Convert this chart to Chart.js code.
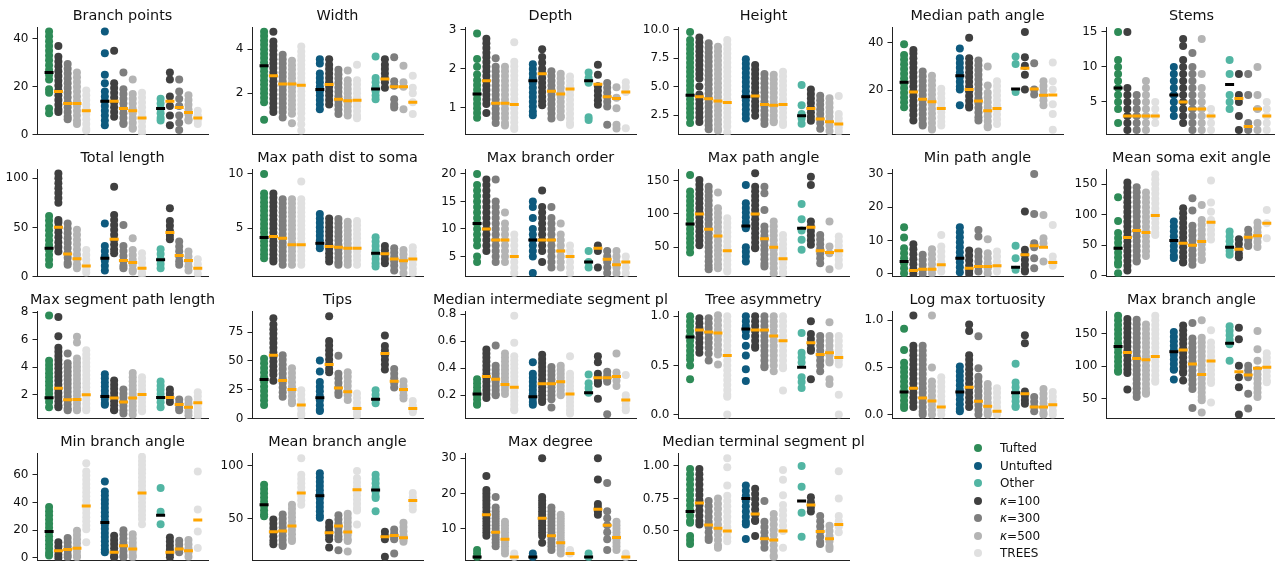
<!DOCTYPE html>
<html>
<head>
<meta charset="utf-8">
<script src="https://cdn.jsdelivr.net/npm/chart.js@4.4.0/dist/chart.umd.min.js"></script>
<style>
  body { margin: 0; background: #fff; width: 1275px; height: 564px; overflow: hidden; position: relative; font-family: "DejaVu Sans", sans-serif; }
  canvas { position: absolute; }
  .ldot { position: absolute; width: 8px; height: 8px; border-radius: 50%; }
  .ltxt { position: absolute; font-size: 12px; line-height: 14px; color: #111; white-space: nowrap; }
</style>
</head>
<body>
<script>
// slots: Tufted, k100, k300, k500, TREES | Untufted, ... | Other, ...
var slotX = [0, 1, 2, 3, 4, 6, 7, 8, 9, 10, 12, 13, 14, 15, 16];
var legendLabels = ["Tufted", "Untufted", "Other", "κ=100", "κ=300", "κ=500", "TREES"];
var legendColors = ["#2e8b57", "#0e5a7e", "#52b5a3", "#404040", "#7e7e7e", "#b4b4b4", "#e0e0e0"];
var slotColor = [0, 3, 4, 5, 6, 1, 3, 4, 5, 6, 2, 3, 4, 5, 6].map(function (k) { return legendColors[k]; });
var medColor = slotX.map(function (x, i) { return i % 5 === 0 ? "#000000" : "#ffa500"; });

var titles = ["Branch points", "Width", "Depth", "Height", "Median path angle", "Stems",
  "Total length", "Max path dist to soma", "Max branch order", "Max path angle", "Min path angle", "Mean soma exit angle",
  "Max segment path length", "Tips", "Median intermediate segment pl", "Tree asymmetry", "Log max tortuosity", "Max branch angle",
  "Min branch angle", "Mean branch angle", "Max degree", "Median terminal segment pl"];

var yLimits = [[0, 44.9], [0.12, 5.01], [0.3, 3.07], [0.77, 10.23], [1.1, 46.7], [0.3, 15.7],
  [-0.3, 109.5], [0.52, 10.46], [1.31, 20.9], [5.5, 167.5], [-0.9, 31.5], [-1.6, 175],
  [0.25, 8.1], [0, 93.2], [0.026, 0.825], [-0.044, 1.054], [-0.045, 1.098], [19.2, 184.3],
  [-2.1, 75.7], [10, 111.9], [0.9, 31.5], [0.27, 1.1]];
var yTicks = [[0, 20, 40], [2, 4], [1, 2, 3], [2.5, 5, 7.5, 10], [20, 40], [5, 10, 15],
  [0, 50, 100], [5, 10], [5, 10, 15, 20], [50, 100, 150], [0, 10, 20, 30], [0, 50, 100, 150],
  [2, 4, 6, 8], [0, 25, 50, 75], [0.2, 0.4, 0.6, 0.8], [0, 0.5, 1], [0, 0.5, 1], [50, 100, 150],
  [0, 20, 40, 60], [50, 100], [10, 20, 30], [0.5, 0.75, 1]];
var tickDigits = [0, 0, 0, 1, 0, 0, 0, 0, 0, 0, 0, 0, 0, 0, 1, 1, 1, 0, 0, 0, 0, 2];

var branchPoints = [
  [43, 41, 39, 37, 35, 33, 31, 29, 27, 25, 23, 19, 17.5, 11, 9],
  [37, 32.5, 30.5, 28.5, 26.5, 24.5, 22.5, 20.5, 18.5, 16.5, 14.5, 12.5, 10.5, 9.5],
  [29.5, 27.5, 25.5, 23.5, 21.5, 19.5, 17.5, 15.5, 13.5, 11.5, 9.5, 7.5, 6.5],
  [26, 24, 22, 20, 18, 16, 14, 12, 10, 8, 6, 4.5],
  [18.5, 16.5, 14.5, 12.5, 10.5, 8.5, 6.5, 4.5, 2.5, 1.8],
  [43, 34, 25, 21.5, 18, 16, 14, 12, 10, 8, 6, 4],
  [35, 21.5, 19.5, 17.5, 15.5, 13.5, 11.5, 9.5, 7.5],
  [26, 19, 17, 15, 13, 11, 9, 7, 5, 4.5],
  [23, 17, 15, 13, 11, 9, 7, 5, 3, 2.5],
  [17.5, 15.5, 13.5, 11.5, 9.5, 7.5, 5.5, 3.5, 1.5, 0.5],
  [15, 13, 11, 9, 7, 6],
  [26, 23, 16, 12, 8, 4],
  [23, 18, 15, 12, 8, 5, 2],
  [16.5, 14.5, 12.5, 10.5, 8.5, 6.5, 6],
  [10, 8, 6, 4.5]];
var branchPointsMed = [26, 18, 13, 13, 10, 14, 14, 11, 10, 7, 11, 14, 11.4, 9.3, 7];

var width = [
  [4.8, 4.6, 4.4, 4.2, 4.0, 3.8, 3.6, 3.4, 3.2, 3.0, 2.8, 2.6, 2.4, 2.2, 2.0, 1.8, 1.6, 0.8],
  [4.8, 4.35, 4.15, 3.95, 3.75, 3.55, 3.35, 3.15, 2.95, 2.75, 2.55, 2.35, 2.15, 1.95, 1.75, 1.55, 1.35, 1.15],
  [3.75, 3.55, 3.35, 3.15, 2.95, 2.75, 2.55, 2.35, 2.15, 1.95, 1.75, 1.55, 1.35, 1.15, 0.9],
  [3.48, 3.28, 3.08, 2.88, 2.68, 2.48, 2.28, 2.08, 1.88, 1.68, 1.48, 1.28, 1.08, 0.64],
  [4.12, 3.9, 3.7, 3.5, 3.3, 3.1, 2.9, 2.7, 2.5, 2.3, 2.1, 1.9, 1.7, 1.5, 1.3, 1.1, 0.85, 0.6, 0.31],
  [3.55, 3.35, 2.9, 2.7, 2.5, 2.3, 2.1, 1.9, 1.7, 1.5, 1.28],
  [3.55, 3.3, 3.1, 2.9, 2.7, 2.5, 2.3, 2.1, 1.9, 1.7, 1.5],
  [3.07, 2.87, 2.67, 2.47, 2.27, 2.07, 1.87, 1.67, 1.47, 1.27, 1.06],
  [3.04, 2.6, 2.4, 2.2, 2.0, 1.8, 1.6, 1.4, 1.2, 0.99],
  [3.3, 2.6, 2.4, 2.2, 2.0, 1.8, 1.6, 1.4, 1.2, 1.0, 0.87],
  [3.67, 2.7, 2.5, 2.3, 2.1, 1.9, 1.73],
  [3.55, 3.3, 3.1, 2.9, 2.7, 2.5, 2.25],
  [3.64, 2.55, 2.35, 1.73, 1.5, 1.36],
  [3.25, 2.5, 2.3, 1.28],
  [2.8, 2.25, 2.0, 1.6, 1.06]];
var widthMed = [3.25, 2.8, 2.43, 2.43, 2.37, 2.18, 2.4, 1.73, 1.66, 1.69, 2.2, 2.65, 2.3, 2.3, 1.6];

var depth = [
  [2.9, 2.25, 2.05, 1.85, 1.7, 1.58, 1.46, 1.34, 1.22, 1.1, 0.98, 0.86, 0.74],
  [2.77, 2.65, 2.53, 2.41, 2.29, 2.17, 2.05, 1.93, 1.81, 1.69, 1.57, 1.45, 1.33, 1.21, 1.09, 0.86],
  [2.27, 2.05, 1.93, 1.81, 1.69, 1.57, 1.45, 1.33, 1.21, 1.09, 0.97, 0.85, 0.73, 0.6],
  [2.05, 1.93, 1.81, 1.69, 1.57, 1.45, 1.33, 1.21, 1.09, 0.97, 0.85, 0.73, 0.6, 0.54],
  [2.68, 2.18, 2.06, 1.94, 1.82, 1.7, 1.58, 1.46, 1.34, 1.22, 1.1, 0.98, 0.86, 0.74, 0.62, 0.5, 0.45],
  [2.11, 1.99, 1.87, 1.75, 1.63, 1.51, 1.39, 1.27, 1.15, 1.03, 0.9, 0.8],
  [2.5, 2.3, 2.15, 2.0, 1.88, 1.76, 1.64, 1.52, 1.4, 1.28, 1.16, 1.06],
  [1.93, 1.81, 1.69, 1.57, 1.45, 1.33, 1.21, 1.09, 0.97, 0.85, 0.72],
  [1.87, 1.75, 1.63, 1.51, 1.39, 1.27, 1.15, 1.03, 0.91, 0.79, 0.75],
  [1.8, 1.68, 1.56, 1.44, 1.32, 1.2, 1.08, 0.96, 0.84, 0.72, 0.6, 0.55],
  [1.9, 1.76, 1.64, 0.75, 0.68],
  [2.1, 1.84, 1.55, 1.43, 1.31, 1.19, 1.07],
  [1.63, 1.51, 1.39, 1.27, 1.15, 1.03, 0.56],
  [1.52, 1.25, 0.98, 0.56, 0.46],
  [1.65, 1.53, 1.4, 0.47]];
var depthMed = [1.35, 1.69, 1.11, 1.11, 1.08, 1.69, 1.87, 1.42, 1.35, 1.48, 1.69, 1.6, 1.28, 1.23, 1.4];

var height = [
  [9.8, 9.1, 8.7, 8.3, 7.9, 7.5, 7.1, 6.7, 6.3, 5.9, 5.5, 5.1, 4.7, 4.3, 3.9, 3.5, 3.1, 2.7, 2.3, 1.8],
  [9.3, 8.9, 8.5, 8.1, 7.7, 7.3, 6.9, 6.5, 6.1, 5.7, 5.0, 4.3, 3.9, 3.5, 3.1, 2.7, 2.3, 1.9],
  [8.8, 8.4, 8.0, 7.6, 7.2, 6.8, 6.4, 6.0, 5.6, 5.2, 4.8, 4.4, 4.0, 3.6, 3.2, 2.8, 2.4, 2.0, 1.6, 1.25],
  [8.5, 8.1, 7.7, 7.3, 6.9, 6.5, 6.1, 5.7, 5.3, 4.9, 4.5, 4.1, 3.7, 3.3, 2.9, 2.5, 2.1, 1.7, 1.3, 1.14],
  [9.1, 8.7, 8.3, 7.9, 7.5, 7.1, 6.7, 6.3, 5.9, 5.5, 5.1, 4.7, 4.3, 3.9, 3.5, 3.1, 2.7, 2.3, 1.9, 1.5, 1.0],
  [7.4, 7.0, 6.6, 6.2, 5.8, 5.4, 5.0, 4.6, 4.2, 3.8, 3.4, 3.0, 2.6, 2.2],
  [6.9, 6.5, 6.1, 5.7, 5.3, 4.9, 4.5, 4.1, 3.7, 3.3, 2.9, 2.44],
  [6.1, 5.7, 5.3, 4.9, 4.5, 4.1, 3.7, 3.3, 2.9, 2.5, 2.1, 1.72],
  [6.05, 5.65, 5.25, 4.85, 4.45, 4.05, 3.65, 3.25, 2.85, 2.45, 2.05, 1.87],
  [6.3, 5.9, 5.5, 5.1, 4.7, 4.3, 3.9, 3.5, 3.1, 2.7, 2.3, 1.9, 1.63],
  [5.15, 3.37, 2.6, 2.2, 1.75],
  [4.75, 4.35, 3.95, 3.55, 3.15, 2.75, 2.35, 2.0],
  [4.2, 3.8, 3.4, 3.0, 2.6, 2.2, 1.8, 1.3],
  [3.97, 3.57, 3.17, 2.77, 2.37, 1.97, 1.57, 1.1],
  [4.17, 2.6, 2.2, 1.8, 1.4, 1.06]];
var heightMed = [4.23, 4.1, 3.94, 3.74, 3.6, 4.1, 4.17, 3.42, 3.37, 3.42, 2.44, 3.08, 2.15, 1.92, 1.72];

var medPathAngle = [
  [39.4, 34.9, 32.9, 30.9, 28.9, 26.9, 24.9, 22.9, 20.9, 18.9, 16.9, 14.9, 12.8],
  [37, 35.5, 33.5, 31.5, 29.5, 27.5, 25.5, 23.5, 21.5, 19.5, 17.5, 15.5, 13.5, 11.5, 9.5, 7.2],
  [27.9, 25.9, 23.9, 21.9, 19.9, 17.9, 15.9, 13.9, 11.9, 9.9, 7.9, 5.9, 5],
  [26.1, 24.1, 22.1, 20.1, 18.1, 16.1, 14.1, 12.1, 10.1, 8.1, 6.1, 4.1, 3.3],
  [20.6, 18.6, 16.6, 14.6, 12.6, 10.6, 8.6, 6.6, 5],
  [37.6, 33.5, 31.5, 29.5, 27.5, 25.5, 23.5, 21.5, 20.3, 13.6],
  [42.2, 33.5, 31.5, 29.5, 27.5, 25.5, 23.5, 21.5, 19.5, 17.5, 15.5, 13.5, 12.6],
  [32.5, 30.5, 28.5, 26.5, 24.5, 22.5, 20.5, 18.5, 16.5, 14.5, 12.5, 10.5, 8.5, 7.1],
  [30, 22, 18.9, 16.9, 14.9, 12.9, 10.9, 8.9, 6.9, 4.9, 4.3],
  [23.7, 21.7, 19.7, 17.7, 15.7, 13.7, 11.7, 9.7, 7.7, 5.7],
  [34.2, 31, 19.2],
  [44.6, 33.9, 30.3, 26.5, 20.3],
  [31.4, 20.3, 18.2],
  [23.7, 21.7, 19.7, 17.7, 15.7, 13.6],
  [31.7, 23.7, 20.3, 14, 9.9, 3.2]];
var medPathAngleMed = [23.3, 19.2, 16.1, 15.1, 12.2, 26.1, 20.3, 15.4, 11.25, 12.2, 20.5, 29.3, 20.5, 17.8, 17.9];

var stems = [
  [15, 11, 10, 9, 8, 7, 6, 5, 4, 2],
  [15, 7, 6, 5, 4, 3, 2, 1],
  [6, 5, 4, 3, 2, 1],
  [8, 7, 6, 5, 4, 3, 2, 1],
  [5, 4, 3, 2],
  [10, 9, 8, 7, 6, 5, 4, 3],
  [14, 13, 11, 10, 9, 8, 7, 6, 5, 4, 3, 2],
  [12, 10, 9, 8, 7, 6, 5, 4, 3, 2, 1],
  [14, 9, 7, 6, 5, 4, 3, 2, 1],
  [4, 3, 2, 1],
  [11, 9, 6, 5, 4],
  [9, 6, 5, 3, 1],
  [9, 6, 2, 1],
  [10, 6, 4, 2, 1],
  [5, 4, 3, 2, 1]];
var stemsMed = [7, 3, 3, 3, 3, 6, 5, 4, 4, 3, 7.5, 5.5, 1.5, 4, 3];

var totalLength = [
  [61.7, 57, 52, 47, 42, 37, 32, 27, 22, 17, 12],
  [105, 100, 95, 90, 85, 80, 75, 57.6, 55, 50, 45, 40, 35, 30, 25.4],
  [54, 49, 44, 39, 34, 29, 24, 19, 14, 12],
  [47.5, 42.5, 37.5, 32.5, 27.5, 22.5, 17.5, 12.5, 8.5],
  [27, 22, 17, 12, 7, 4],
  [54, 31, 26, 21, 16, 11, 6],
  [91.5, 62.7, 57.5, 52.5, 47.5, 42.5, 37.5, 32.5, 27.5, 23.7],
  [52.5, 31, 26, 21, 16, 11, 8.5],
  [39, 27, 22, 17, 12, 7, 5],
  [23.7, 18.7, 13.7, 8.7, 3.7, 1.7],
  [27.8, 22.8, 17.8, 12.8, 8.5],
  [69.5, 56.6, 51.6, 46.6, 41.6, 38],
  [35.6, 30.6, 25.6, 20.6, 15.6, 11.9],
  [25.4, 20.4, 15.4, 10.4, 6],
  [17.6, 12.6, 7.6, 2.7]];
var totalLengthMed = [28.8, 50.2, 23, 18, 10.8, 18.6, 38, 16.3, 14.2, 8.5, 17, 44.7, 21.4, 16.3, 8.5];

var maxPathDist = [
  [10, 8.2, 7.8, 7.4, 7.0, 6.6, 6.2, 5.8, 5.4, 5.0, 4.6, 4.2, 3.8, 3.4, 3.0, 2.6, 2.24],
  [8.2, 7.8, 7.4, 7.0, 6.6, 6.2, 5.8, 5.4, 5.0, 4.6, 4.2, 3.8, 3.4, 3.0, 2.6, 2.2, 1.93],
  [7.67, 7.27, 6.87, 6.47, 6.07, 5.67, 5.27, 4.87, 4.47, 4.07, 3.67, 3.27, 2.87, 2.47, 2.07, 1.63],
  [7.67, 7.27, 6.87, 6.47, 6.07, 5.67, 5.27, 4.87, 4.47, 4.07, 3.67, 3.27, 2.87, 2.47, 2.07, 1.63],
  [9.3, 7.67, 7.27, 6.87, 6.47, 6.07, 5.67, 5.27, 4.87, 4.47, 4.07, 3.67, 3.27, 2.87, 2.47, 2.07, 1.63],
  [6.3, 5.9, 5.5, 5.1, 4.7, 4.3, 3.9, 3.5, 3.16],
  [5.9, 5.5, 5.1, 4.7, 4.3, 3.9, 3.5, 3.1, 2.7, 2.3, 1.93],
  [5.86, 5.46, 5.06, 4.66, 4.26, 3.86, 3.46, 3.06, 2.66, 2.26, 1.86, 1.63],
  [5.6, 5.2, 4.8, 4.4, 4.0, 3.6, 3.2, 2.8, 2.4, 2.0, 1.63],
  [5.67, 5.27, 4.87, 4.47, 4.07, 3.67, 3.27, 2.87, 2.47, 2.07, 1.63],
  [4.17, 3.77, 3.37, 2.97, 2.57, 2.17, 1.77, 1.47],
  [3.37, 2.97, 2.57, 2.17, 1.78],
  [3.16, 2.76, 2.36, 1.96, 1.56, 1.1],
  [3.0, 2.6, 2.2, 1.8, 1.4, 0.86],
  [3.25, 2.85, 2.45, 2.05, 1.65, 1.25, 0.86]];
var maxPathDistMed = [4.14, 4.23, 4.08, 3.47, 3.47, 3.62, 3.31, 3.25, 3.16, 3.16, 2.7, 2.64, 2.15, 2.0, 2.15];

var maxBranchOrder = [
  [20, 18, 17, 16, 15, 14, 13, 12, 11, 10, 9, 8, 7, 5, 4],
  [19, 18, 17, 16, 15, 14, 13, 12, 11, 10, 9, 8, 7, 6],
  [19, 15, 14, 13, 12, 11, 10, 9, 8, 7, 6, 5, 4],
  [13, 11, 10, 9, 8, 7, 6, 5, 4],
  [9, 8, 7, 6, 5, 4, 3, 2],
  [15, 14, 12, 10, 9, 8, 7, 6, 5, 2],
  [17, 14, 13, 12, 11, 10, 9, 8, 7, 6, 4],
  [14, 12, 11, 10, 9, 8, 7, 6, 5, 4, 3],
  [11, 9, 8, 7, 6, 5, 4, 3],
  [7, 6, 5, 4, 3, 2],
  [6, 4, 3],
  [7, 6, 3],
  [6, 5, 4, 3, 2],
  [6, 5, 4, 3, 2],
  [5, 4, 3, 2]];
var maxBranchOrderMed = [11, 10, 8, 8, 5, 8, 8, 8, 6, 5, 4, 6.5, 4.5, 3.5, 4];

var maxPathAngle = [
  [158.5, 133.5, 126.5, 119.5, 112.5, 105.5, 98.5, 91.5, 84.5, 77.5, 70.5, 63.5, 56.5, 49.5, 42],
  [151, 144, 137, 130, 123, 116, 109, 102, 95, 88, 81, 74, 67, 60, 53],
  [141, 134, 127, 120, 113, 106, 99, 92, 85, 78, 71, 64, 57, 50, 43, 36, 29, 22, 17],
  [132, 108.5, 101.5, 94.5, 87.5, 80.5, 73.5, 66.5, 59.5, 52.5, 45.5, 38.5, 31.5, 24.5, 18.5],
  [93.5, 86.5, 79.5, 72.5, 65.5, 58.5, 51.5, 44.5, 37.5, 30.5, 23.5, 16.5, 13.5],
  [143.5, 116, 109, 102, 95, 88, 81, 78.5, 50, 43, 36, 28.5],
  [161, 141, 134, 127, 120, 113, 106, 99, 92, 85, 78, 71, 64, 57, 50, 48.5],
  [141, 131, 106, 81, 74, 67, 60, 53, 46, 39, 32, 25, 21],
  [88.5, 81.5, 74.5, 67.5, 60.5, 53.5, 46.5, 39.5, 32.5, 25.5, 18.5, 11],
  [68.5, 61.5, 54.5, 47.5, 40.5, 33.5, 26.5, 19.5, 12.5, 11],
  [115, 92, 75, 61, 46],
  [156, 143.5, 88.5, 81.5, 74.5, 67.5, 60.5, 53.5],
  [68.5, 61.5, 54.5, 47.5, 40.5, 33.5, 26],
  [88.5, 51, 41, 17],
  [66, 59, 52, 45, 38, 31, 24, 22]];
var maxPathAngleMed = [85, 100, 77, 67, 44.5, 82, 100, 62.5, 50, 32.5, 78.5, 80, 44.5, 42, 44.5];

var minPathAngle = [
  [14, 10.9, 7.7, 6.2, 4.7, 3.2, 1.7, 0.2],
  [8.9, 7.4, 5.9, 4.4, 2.9, 1.4, 0],
  [5.7, 4.2, 2.7, 1.2, 0],
  [7.4, 5.9, 4.4, 2.9, 1.4, 0.2],
  [11.7, 8.2, 6.7, 5.2, 3.7, 2.2, 0.7],
  [14, 12.5, 11, 9.5, 8, 6.5, 5, 3.5, 2, 0.5],
  [7, 5.5, 4, 2.5, 1, 0],
  [13.2, 11.2, 6.7, 5.2, 3.7, 2.2, 0.7],
  [10.4, 6.2, 4.7, 3.2, 1.7, 0.2],
  [6.7, 5.2, 3.7, 2.2, 0.7],
  [8.4, 4.7, 1.2],
  [18.7, 7.2, 5.7, 4.2, 2.7, 1.2, 0.7],
  [30, 18, 9.2, 8, 4.7, 1.7],
  [17.7, 10.7, 9.2, 3.7],
  [14.7, 5.2, 3.7, 2.4]];
var minPathAngleMed = [3.7, 1, 1.4, 1.4, 2.7, 4.7, 1.7, 2.2, 2.2, 2.4, 2, 5.7, 8.4, 8, 3.4];

var somaExitAngle = [
  [128.7, 90, 70, 62, 54, 46, 38, 30, 22, 18, 4.4],
  [152.7, 144.7, 136.7, 128.7, 120.7, 112.7, 104.7, 96.7, 88.7, 80.7, 72.7, 64.7, 56.7, 48.7, 40.7, 32.7, 24.7, 16.7, 8.7],
  [145, 137, 129, 121, 113, 105, 97, 89, 81, 73, 65, 57, 49, 41, 33, 25, 23.5],
  [136.4, 128.4, 120.4, 112.4, 104.4, 96.4, 88.4, 80.4, 72.4, 64.4, 56.4, 48.4, 40.4, 32.4],
  [166.4, 158.4, 150.4, 142.4, 134.4, 126.4, 118.4, 110.4, 102.4, 94.4, 86.4, 78.4, 70.4, 67],
  [89, 81, 73, 65, 57, 49, 41, 33, 29],
  [110.7, 102.7, 94.7, 86.7, 78.7, 70.7, 62.7, 54.7, 46.7, 38.7, 30.7, 22.7, 21.8],
  [127, 107, 82, 74, 66, 58, 50, 42, 34, 26, 18],
  [116, 91.6, 83.6, 75.6, 67.6, 59.6, 51.6, 43.6, 35.6, 27.6, 26],
  [156, 120, 105, 91.6, 83.6, 75.6, 67.6, 59.6],
  [72.6, 64.6, 56.6, 48.6, 40.6, 34.4],
  [60, 52, 44, 36, 30.5],
  [75.3, 67.3, 59.3, 51.3, 49],
  [87.3, 79.3, 71.3, 63.3, 55.3, 47.3],
  [108, 86, 61.6]];
var somaExitAngleMed = [45.3, 62.7, 74.2, 71, 98.7, 57.8, 53.5, 50.2, 56.2, 87.8, 47, 43.6, 63.3, 65.5, 86.2];

var maxSegPathLen = [
  [7.78, 4.47, 4.17, 3.87, 3.57, 3.27, 2.97, 2.67, 2.37, 2.07, 1.77, 1.47, 1.1],
  [7.66, 6.27, 5.43, 5.13, 4.83, 4.53, 4.23, 3.93, 3.63, 3.33, 3.03, 2.73, 2.43, 2.13, 1.83, 1.53, 1.23, 1.1],
  [5.0, 4.3, 4.0, 3.7, 3.4, 3.1, 2.8, 2.5, 2.2, 1.9, 1.6, 1.3, 1.0, 0.87],
  [6.22, 5.8, 4.64, 4.34, 4.04, 3.74, 3.44, 3.14, 2.84, 2.54, 2.24, 1.94, 1.64, 1.34, 1.04, 0.87],
  [5.24, 4.94, 4.64, 4.34, 4.04, 3.74, 3.44, 3.14, 2.84, 2.54, 2.24, 1.94, 1.64, 1.34, 1.04, 0.87],
  [3.5, 3.2, 2.9, 2.6, 2.3, 2.0, 1.7, 1.4, 1.28],
  [3.03, 2.73, 2.43, 2.13, 1.83, 1.53, 1.23, 0.93, 0.87],
  [2.38, 2.08, 1.78, 1.48, 1.18, 0.88, 0.63],
  [3.58, 3.28, 2.98, 2.68, 2.38, 2.08, 1.78, 1.48, 1.18, 0.88, 0.56],
  [3.27, 2.97, 2.67, 2.37, 2.07, 1.77, 1.47, 1.17, 0.87, 0.8],
  [2.96, 2.66, 2.36, 2.06, 1.76, 1.46, 1.1],
  [2.38, 2.08, 1.78, 1.47],
  [1.66, 1.36, 1.06, 0.87],
  [1.66, 1.36, 1.06, 0.76, 0.5],
  [2.19, 1.89, 1.59, 1.29, 0.99, 0.69, 0.46]];
var maxSegPathLenMed = [1.78, 2.48, 1.64, 1.66, 2.0, 1.88, 1.76, 1.47, 1.76, 2.02, 1.8, 1.8, 1.3, 1.1, 1.42];

var tips = [
  [52, 48, 44, 40, 36, 32, 28, 24, 20, 16, 12],
  [87, 81.5, 77.5, 73.5, 69.5, 65.5, 61.5, 57.5, 53.5, 49.5, 45.5, 41.5, 38, 33],
  [55, 51, 47, 43, 39, 35, 31, 27, 23, 19],
  [43.7, 39.7, 35.7, 31.7, 27.7, 23.7, 19.7, 15.7, 13.4],
  [24.7, 20.7, 16.7, 12.7, 8.7, 4.7, 2.8],
  [50.3, 41, 31.8, 27.8, 23.8, 19.8, 15.8, 11.8, 7.8, 6.8],
  [88.6, 67.3, 63.3, 59.3, 55.3, 51.3, 47.3, 43.3, 40.3],
  [54.5, 39, 35, 31, 27, 23, 20.5],
  [40.3, 36.3, 32.3, 28.3, 24.3, 20.3, 16.2],
  [21.9, 17.9, 13.9, 9.9, 5.9, 2.8],
  [24.7, 20.7, 16.7, 13.4],
  [72, 63, 59, 55, 51, 47, 42.6],
  [43, 39, 35, 31, 27],
  [32.4, 28.4, 24.4, 20.4, 17.6],
  [15.3, 11.3, 7.3, 5.7]];
var tipsMed = [34, 55, 33.2, 25.3, 12, 18.2, 47, 26.7, 23.3, 9, 17, 56.5, 32.4, 25.3, 9];

var medInterSegPl = [
  [0.32, 0.29, 0.26, 0.23, 0.2, 0.17, 0.14, 0.13],
  [0.54, 0.51, 0.48, 0.45, 0.42, 0.39, 0.36, 0.33, 0.3, 0.27, 0.24, 0.21, 0.18],
  [0.57, 0.42, 0.39, 0.36, 0.33, 0.3, 0.27, 0.24, 0.21, 0.2],
  [0.51, 0.48, 0.45, 0.42, 0.39, 0.36, 0.33, 0.3, 0.27, 0.24, 0.21],
  [0.79, 0.59, 0.49, 0.46, 0.43, 0.4, 0.37, 0.34, 0.31, 0.28, 0.25, 0.22, 0.19, 0.16, 0.13, 0.1, 0.09],
  [0.445, 0.36, 0.33, 0.3, 0.27, 0.24, 0.21, 0.18, 0.15, 0.13],
  [0.5, 0.47, 0.44, 0.41, 0.38, 0.35, 0.32, 0.29, 0.26, 0.23, 0.2, 0.17, 0.15],
  [0.41, 0.38, 0.35, 0.32, 0.29, 0.26, 0.23, 0.2, 0.17, 0.11],
  [0.42, 0.39, 0.36, 0.33, 0.3, 0.27, 0.24, 0.21, 0.2],
  [0.49, 0.36, 0.33, 0.3, 0.27, 0.24, 0.21, 0.18, 0.15, 0.12, 0.09, 0.065],
  [0.355, 0.29, 0.255, 0.22],
  [0.49, 0.445, 0.36, 0.33, 0.3, 0.285, 0.175],
  [0.375, 0.345, 0.315, 0.3, 0.06],
  [0.51, 0.37, 0.34, 0.31, 0.27],
  [0.35, 0.2, 0.17, 0.14, 0.11, 0.09]];
var medInterSegPlMed = [0.21, 0.34, 0.32, 0.28, 0.26, 0.19, 0.285, 0.285, 0.3, 0.21, 0.22, 0.33, 0.33, 0.34, 0.165];

var treeAsym = [
  [1.0, 0.95, 0.9, 0.85, 0.8, 0.75, 0.7, 0.65, 0.6, 0.56, 0.5, 0.36],
  [0.98, 0.93, 0.88, 0.83, 0.78, 0.73, 0.68, 0.63],
  [0.98, 0.93, 0.88, 0.83, 0.78, 0.73, 0.68, 0.62, 0.55],
  [1.01, 0.96, 0.91, 0.86, 0.81, 0.76, 0.71, 0.66, 0.61, 0.51],
  [1.0, 0.95, 0.9, 0.85, 0.8, 0.75, 0.7, 0.65, 0.6, 0.55, 0.5, 0.45, 0.4, 0.35, 0.3, 0.25, 0.2, 0.18, 0.0],
  [1.0, 0.95, 0.9, 0.85, 0.8, 0.7, 0.6, 0.46, 0.34],
  [1.0, 0.95, 0.9, 0.85, 0.8, 0.75, 0.7, 0.68],
  [1.0, 0.95, 0.9, 0.85, 0.8, 0.75, 0.7, 0.65, 0.6, 0.55, 0.5, 0.48],
  [1.0, 0.95, 0.9, 0.85, 0.8, 0.75, 0.7, 0.65, 0.6, 0.55, 0.5, 0.44],
  [1.0, 0.95, 0.9, 0.85, 0.8, 0.75, 0.7, 0.65, 0.6, 0.55, 0.5, 0.47, 0.245],
  [0.83, 0.63, 0.58, 0.53, 0.38, 0.33, 0.27],
  [0.95, 0.82, 0.77, 0.72, 0.67, 0.65, 0.36],
  [0.8, 0.75, 0.7, 0.65, 0.6, 0.55, 0.5, 0.44],
  [0.94, 0.8, 0.75, 0.7, 0.65, 0.6, 0.55, 0.53, 0.36, 0.31],
  [0.8, 0.75, 0.7, 0.65, 0.6, 0.55, 0.51, 0.2, 0.0]];
var treeAsymMed = [0.79, 0.86, 0.84, 0.83, 0.6, 0.87, 0.86, 0.86, 0.8, 0.75, 0.48, 0.73, 0.61, 0.63, 0.58];

var logMaxTort = [
  [0.91, 0.685, 0.55, 0.5, 0.45, 0.4, 0.35, 0.3, 0.25, 0.2, 0.15, 0.1, 0.07],
  [1.05, 0.73, 0.68, 0.63, 0.58, 0.53, 0.48, 0.43, 0.38, 0.33, 0.28, 0.23, 0.18, 0.13, 0.08],
  [0.73, 0.68, 0.63, 0.58, 0.53, 0.48, 0.43, 0.38, 0.33, 0.28, 0.23, 0.18, 0.13, 0.08, 0.03, 0.0],
  [1.05, 0.5, 0.35, 0.3, 0.25, 0.2, 0.15, 0.1, 0.05, 0.0],
  [0.395, 0.345, 0.295, 0.245, 0.195, 0.145, 0.095, 0.045, 0.0],
  [0.51, 0.46, 0.41, 0.36, 0.31, 0.26, 0.21, 0.16, 0.11, 0.06, 0.035],
  [0.955, 0.885, 0.63, 0.58, 0.53, 0.48, 0.43, 0.38, 0.33, 0.28, 0.23, 0.18, 0.13, 0.08],
  [0.83, 0.49, 0.4, 0.35, 0.3, 0.25, 0.2, 0.15, 0.1, 0.05, 0.0],
  [0.325, 0.275, 0.225, 0.175, 0.125, 0.075, 0.025, 0.0],
  [0.28, 0.23, 0.18, 0.13, 0.08, 0.03, 0.0],
  [0.54, 0.34, 0.29, 0.24, 0.19, 0.14, 0.09, 0.08],
  [0.84, 0.755, 0.245, 0.2, 0.155, 0.115],
  [0.185, 0.135, 0.085, 0.035],
  [0.27, 0.22, 0.17, 0.12, 0.07, 0.02, 0.0],
  [0.24, 0.19, 0.14, 0.09, 0.04, 0.0]];
var logMaxTortMed = [0.24, 0.28, 0.175, 0.143, 0.08, 0.24, 0.29, 0.14, 0.087, 0.035, 0.23, 0.22, 0.08, 0.08, 0.105];

var maxBranchAngle = [
  [177, 170, 163, 156, 149, 142, 135, 128, 121, 114, 107, 100, 93, 91.4],
  [172, 165, 158, 151, 144, 137, 130, 123, 116, 109, 102, 95, 89.4, 64],
  [171, 164, 157, 150, 143, 136, 129, 122, 115, 108, 101, 94, 87, 80, 73, 66, 59, 52.5],
  [163.6, 156.6, 149.6, 142.6, 135.6, 128.6, 121.6, 114.6, 107.6, 100.6, 93.6, 86.6, 79.6, 72.6, 65.6, 60, 57.6],
  [177, 170, 163, 156, 149, 142, 135, 128, 121, 114, 107, 100, 93, 86, 79, 76],
  [152, 145, 138, 131, 124, 117, 110, 103, 96, 94.4, 79.3],
  [162, 155, 148, 141, 134, 127, 120, 113, 106, 99, 92, 89.4, 77.8],
  [166, 142, 135, 128, 121, 114, 107, 100, 93, 86, 79, 72, 65, 35.9],
  [170, 143.4, 136.4, 129.4, 122.4, 115.4, 108.4, 101.4, 94.4, 87.4, 80.4, 73.4, 66.4, 59.4, 52.4, 47.5, 28.8],
  [155, 135.9, 128.9, 121.9, 114.9, 107.9, 100.9, 93.9, 86.9, 79.9, 74.2, 44],
  [161, 154, 147, 140, 133.3, 108],
  [158.6, 141, 100.5, 82.8, 67.7, 25.8],
  [100.5, 93.5, 86.5, 82.8, 57.6, 34.8],
  [153.5, 125.8, 108, 94.4, 87.4, 80.4, 73.4, 66.4, 59.4, 52.5],
  [119.7, 112.7, 105.7, 98.7, 91.7, 84.7, 77.7, 75]];
var maxBranchAngleMed = [129.8, 120.7, 111.6, 109.6, 114.6, 121.7, 124.7, 103, 86.9, 107.6, 134.8, 91.4, 86.4, 96.5, 98];

var minBranchAngle = [
  [36.7, 33.7, 30.7, 27.7, 24.7, 21.7, 18.7, 15.7, 12.7, 9.7, 6.7, 3.7, 1.7],
  [11.2, 8.2, 5.2, 2.2, 0],
  [14.3, 11.3, 8.3, 5.3, 2.3, 0.5],
  [19.5, 16.5, 13.5, 10.5, 7.5, 4.5, 1.5, 0.5],
  [68.3, 62.4, 59.4, 56.4, 53.4, 50.4, 47.4, 44.4, 41.4, 38.4, 35.4, 32.4, 29.4, 26.4, 23.4, 20.7, 11.2],
  [55.2, 48, 45, 42, 39, 36, 33, 30, 27, 24, 21, 18, 15, 12, 9, 6, 4],
  [16, 13, 10, 7, 4, 1, 0.5],
  [20, 17, 14, 11, 8, 5, 2, 0.5],
  [17, 14, 11, 8, 5, 2, 0.5],
  [73, 70, 67, 64, 61, 58, 55, 52, 49, 46, 43, 40, 37, 34, 31, 28, 24.3],
  [50.5, 33.3, 24.3],
  [14.8, 11.8, 8.8, 5.8, 2.8, 0.5],
  [12.4, 9.4, 6.4, 4],
  [12.9, 9.9, 6.9, 3.9, 0.9],
  [62.4, 35, 19, 7.1]];
var minBranchAngleMed = [19, 5.2, 6, 6.9, 37.4, 25.5, 4, 8.8, 6.4, 46.9, 30.7, 4, 6.4, 5.2, 27.4];

var meanBranchAngle = [
  [81.9, 77.9, 73.9, 69.9, 65.9, 61.9, 57.9, 53.9, 52.2],
  [49, 45, 41, 37, 33, 29, 25.6],
  [53.75, 49.75, 45.75, 41.75, 37.75, 33.75, 29.75, 25.75, 24],
  [63.1, 59.1, 55.1, 51.1, 47.1, 43.1, 39.1, 35.1, 31.1, 28.75],
  [106.9, 91.25, 87.25, 83.25, 79.25, 75.25, 71.25, 67.25, 63.1],
  [92.8, 88.8, 84.8, 80.8, 76.8, 72.8, 68.8, 64.8, 60.8, 56.8, 52.8, 50.6],
  [46, 42, 38, 34, 30.3, 22.5],
  [53.1, 49.1, 45.1, 41.1, 37.1, 33.1, 30.3, 20],
  [54.4, 50.4, 46.4, 42.4, 38.4, 34.4, 30.4, 28.75, 18.75],
  [95, 88, 84, 80, 76, 72, 68, 64, 60, 57.5, 44.4],
  [91.25, 87.25, 83.25, 79.25, 75.25, 71.25, 69.4, 56.9],
  [37.5, 33.5, 30.3, 13.75],
  [39.7, 35.7, 31.7, 30.3, 16.9],
  [46, 42, 38, 34, 30, 28.1],
  [74, 70, 66, 62, 58.4]];
var meanBranchAngleMed = [63.1, 37.5, 38.1, 42.8, 74, 71.6, 36.6, 42.8, 37.2, 77.2, 76.9, 32.8, 34, 31.9, 66.9];

var maxDegree = [
  [4, 3, 2],
  [25, 21, 20, 19, 18, 17, 16, 15, 14, 13, 12, 11, 10, 9, 8],
  [19, 16, 15, 14, 13, 12, 11, 10, 9, 8, 7, 6, 5],
  [12, 11, 10, 9, 8, 7, 6, 5, 4, 3],
  [3, 2],
  [3, 2],
  [30, 19, 18, 17, 16, 15, 14, 13, 12, 11, 10, 9, 8, 6],
  [16, 15, 14, 13, 12, 11, 10, 9, 8, 7, 6, 5, 4],
  [14, 13, 12, 11, 10, 9, 8, 7, 6, 5, 4, 3],
  [4, 3],
  [3, 2],
  [30, 24, 17, 16, 15, 14],
  [23, 15, 13, 11, 9, 7, 4],
  [12, 11, 10, 9, 8, 7, 6, 5, 4],
  [3, 2]];
var maxDegreeMed = [2, 14, 9, 7, 2, 2, 13, 8, 6, 3, 2, 15.5, 11, 7.5, 2];

var medTermSegPl = [
  [0.977, 0.937, 0.897, 0.857, 0.817, 0.777, 0.737, 0.697, 0.657, 0.617, 0.577, 0.563, 0.46, 0.43, 0.4],
  [0.977, 0.937, 0.897, 0.857, 0.817, 0.777, 0.737, 0.697, 0.657, 0.617, 0.577, 0.55],
  [0.73, 0.69, 0.65, 0.61, 0.57, 0.53, 0.49, 0.45, 0.43],
  [0.75, 0.71, 0.67, 0.63, 0.59, 0.55, 0.51, 0.47, 0.43, 0.39, 0.37],
  [1.06, 0.99, 0.85, 0.77, 0.73, 0.69, 0.65, 0.61, 0.57, 0.53, 0.49, 0.45, 0.42],
  [0.85, 0.81, 0.77, 0.73, 0.69, 0.65, 0.61, 0.57, 0.55, 0.437],
  [0.825, 0.785, 0.745, 0.705, 0.665, 0.625, 0.585, 0.576, 0.46],
  [0.73, 0.57, 0.53, 0.49, 0.45, 0.41, 0.37],
  [0.63, 0.59, 0.55, 0.51, 0.47, 0.43, 0.39, 0.35, 0.31, 0.3],
  [0.97, 0.895, 0.775, 0.7, 0.66, 0.62, 0.58, 0.54, 0.5, 0.37],
  [1.0, 0.84, 0.64, 0.455],
  [0.76, 0.72, 0.68, 0.65],
  [0.615, 0.575, 0.535, 0.495, 0.455, 0.415, 0.4],
  [0.54, 0.5, 0.46, 0.42, 0.38, 0.36],
  [0.96, 0.75, 0.615, 0.575, 0.535, 0.49]];
var medTermSegPlMed = [0.65, 0.715, 0.546, 0.52, 0.5, 0.75, 0.63, 0.44, 0.43, 0.5, 0.73, 0.7, 0.495, 0.44, 0.55];

var panelValues = [branchPoints, width, depth, height, medPathAngle, stems,
  totalLength, maxPathDist, maxBranchOrder, maxPathAngle, minPathAngle, somaExitAngle,
  maxSegPathLen, tips, medInterSegPl, treeAsym, logMaxTort, maxBranchAngle,
  minBranchAngle, meanBranchAngle, maxDegree, medTermSegPl];
var panelMedians = [branchPointsMed, widthMed, depthMed, heightMed, medPathAngleMed, stemsMed,
  totalLengthMed, maxPathDistMed, maxBranchOrderMed, maxPathAngleMed, minPathAngleMed, somaExitAngleMed,
  maxSegPathLenMed, tipsMed, medInterSegPlMed, treeAsymMed, logMaxTortMed, maxBranchAngleMed,
  minBranchAngleMed, meanBranchAngleMed, maxDegreeMed, medTermSegPlMed];

// layout of the axes boxes
var colLeft = [37, 252, 465, 678, 892, 1106];
var rowTop = [27, 169, 311, 453];
var axW = 171, axH = 109, padL = 40, padT = 27, padB = 10;
var ink = "#222";

Chart.defaults.font.family = "'DejaVu Sans', sans-serif";

// panel title, centred over the axes box (the built-in title centres on the whole canvas)
var axesTitle = {
  id: "axesTitle",
  afterDraw: function (chart, args, opts) {
    var a = chart.chartArea, ctx = chart.ctx;
    ctx.save();
    ctx.font = "14.4px 'DejaVu Sans', sans-serif";
    ctx.fillStyle = "#111";
    ctx.textAlign = "center";
    ctx.textBaseline = "alphabetic";
    ctx.fillText(opts.text, (a.left + a.right) / 2, a.top - 7.5);
    ctx.restore();
  }
};

titles.forEach(function (title, p) {
  var cv = document.createElement("canvas");
  cv.width = padL + axW + padL;
  cv.height = padT + axH + padB;
  cv.style.left = (colLeft[p % 6] - padL) + "px";
  cv.style.top = (rowTop[Math.floor(p / 6)] - padT) + "px";
  document.body.appendChild(cv);

  var datasets = [{
    data: panelMedians[p].map(function (v, i) { return { x: slotX[i], y: v }; }),
    pointStyle: "line",
    pointRadius: 4.5,
    pointBorderWidth: 3,
    pointBorderColor: medColor,
    order: 0
  }];
  panelValues[p].forEach(function (col, i) {
    datasets.push({
      data: col.map(function (v) { return { x: slotX[i], y: v }; }),
      pointRadius: 4,
      pointBorderWidth: 0,
      pointBackgroundColor: slotColor[i],
      order: 1
    });
  });

  new Chart(cv, {
    type: "scatter",
    data: { datasets: datasets },
    plugins: [axesTitle],
    options: {
      responsive: false,
      animation: false,
      events: [],
      layout: { padding: { left: 0, right: padL, top: padT, bottom: padB } },
      plugins: {
        legend: { display: false },
        tooltip: { enabled: false },
        axesTitle: { text: title }
      },
      scales: {
        x: {
          type: "linear", min: -1.3, max: 17.1,
          grid: { display: false },
          border: { display: true, color: ink, width: 1 },
          ticks: { display: false },
          afterFit: function (s) { s.height = 0; }
        },
        y: {
          type: "linear", min: yLimits[p][0], max: yLimits[p][1],
          grid: { display: true, drawOnChartArea: false, drawTicks: true, tickLength: 4.5, color: ink, tickWidth: 1 },
          border: { display: true, color: ink, width: 1 },
          ticks: {
            autoSkip: false, padding: 4, color: "#111", font: { size: 12 },
            callback: function (v) { return Number(v).toFixed(tickDigits[p]); }
          },
          afterBuildTicks: function (s) { s.ticks = yTicks[p].map(function (v) { return { value: v }; }); },
          afterFit: function (s) { s.width = padL; }
        }
      }
    }
  });
});

// legend
var legendRowY = [448, 466, 483, 501, 518, 536, 553];
legendLabels.forEach(function (lab, i) {
  var d = document.createElement("div");
  d.className = "ldot";
  d.style.background = legendColors[i];
  d.style.left = "974px";
  d.style.top = (legendRowY[i] - 4) + "px";
  document.body.appendChild(d);
  var t = document.createElement("div");
  t.className = "ltxt";
  t.style.left = "1000px";
  t.style.top = (legendRowY[i] - 7) + "px";
  if (lab.charAt(0) === "κ") {
    t.innerHTML = "<i>κ</i>" + lab.slice(1);
  } else {
    t.textContent = lab;
  }
  document.body.appendChild(t);
});
</script>
</body>
</html>
